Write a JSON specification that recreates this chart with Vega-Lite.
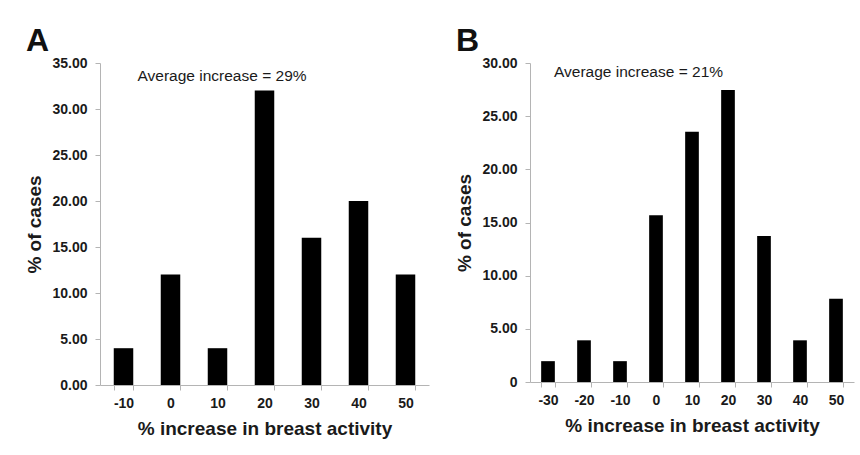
{
  "$schema": "https://vega.github.io/schema/vega-lite/v6.json",
  "background": "white",
  "padding": {"left": 25, "top": 25, "right": 4, "bottom": 4},
  "spacing": 26,
  "config": {
    "font": "Liberation Sans",
    "view": {"stroke": null},
    "axis": {
      "grid": false,
      "domainColor": "#b4b4b4",
      "tickColor": "#b4b4b4",
      "labelColor": "#1a1a1a",
      "labelFont": "Liberation Sans",
      "labelFontWeight": "bold",
      "labelFontSize": 14,
      "titleFont": "Liberation Sans",
      "titleFontWeight": "bold",
      "titleFontSize": 19,
      "titleColor": "#1a1a1a",
      "tickSize": 5
    },
    "title": {"font": "Liberation Sans", "fontWeight": "bold", "fontSize": 32, "color": "#111", "anchor": "start", "frame": "bounds"}
  },
  "hconcat": [
    {
      "title": {"text": "A", "offset": -2},
      "width": 329,
      "height": 322,
      "layer": [
        {
          "data": {"values": [
            {"increase": "-10", "pct": 4},
            {"increase": "0", "pct": 12},
            {"increase": "10", "pct": 4},
            {"increase": "20", "pct": 32},
            {"increase": "30", "pct": 16},
            {"increase": "40", "pct": 20},
            {"increase": "50", "pct": 12}
          ]},
          "mark": {"type": "bar", "color": "black"},
          "encoding": {
            "x": {"field": "increase", "type": "ordinal", "sort": null,
              "scale": {"domain": ["-10", "0", "10", "20", "30", "40", "50"], "paddingInner": 0.585, "paddingOuter": 0.2925},
              "axis": {"title": "% increase in breast activity", "labelAngle": 0, "tickBand": "extent", "labelPadding": 6, "titlePadding": 9}},
            "y": {"field": "pct", "type": "quantitative",
              "scale": {"domain": [0, 35], "nice": false},
              "axis": {"title": "% of cases", "values": [0, 5, 10, 15, 20, 25, 30, 35], "format": ".2f", "labelPadding": 8, "titlePadding": 7}}
          }
        },
        {
          "data": {"values": [{"label": "Average increase = 29%", "increase": "-10", "pct": 33.6}]},
          "mark": {"type": "text", "align": "left", "baseline": "middle", "dx": 14, "fontSize": 15.5, "color": "#1a1a1a", "font": "Liberation Sans"},
          "encoding": {
            "x": {"field": "increase", "type": "ordinal"},
            "y": {"field": "pct", "type": "quantitative"},
            "text": {"field": "label"}
          }
        }
      ]
    },
    {
      "title": {"text": "B", "offset": -2},
      "width": 324,
      "height": 319,
      "layer": [
        {
          "data": {"values": [
            {"increase": "-30", "pct": 1.96},
            {"increase": "-20", "pct": 3.92},
            {"increase": "-10", "pct": 1.96},
            {"increase": "0", "pct": 15.69},
            {"increase": "10", "pct": 23.53},
            {"increase": "20", "pct": 27.45},
            {"increase": "30", "pct": 13.73},
            {"increase": "40", "pct": 3.92},
            {"increase": "50", "pct": 7.84}
          ]},
          "mark": {"type": "bar", "color": "black"},
          "encoding": {
            "x": {"field": "increase", "type": "ordinal", "sort": null,
              "scale": {"domain": ["-30", "-20", "-10", "0", "10", "20", "30", "40", "50"], "paddingInner": 0.62, "paddingOuter": 0.31},
              "axis": {"title": "% increase in breast activity", "labelAngle": 0, "tickBand": "extent", "labelPadding": 6, "titlePadding": 9}},
            "y": {"field": "pct", "type": "quantitative",
              "scale": {"domain": [0, 30], "nice": false},
              "axis": {"title": "% of cases", "values": [0, 5, 10, 15, 20, 25, 30], "labelExpr": "datum.value == 0 ? '0' : format(datum.value, '.2f')", "labelPadding": 8, "titlePadding": 7}}
          }
        },
        {
          "data": {"values": [{"label": "Average increase = 21%", "increase": "-30", "pct": 29.2}]},
          "mark": {"type": "text", "align": "left", "baseline": "middle", "dx": 6, "fontSize": 15.5, "color": "#1a1a1a", "font": "Liberation Sans"},
          "encoding": {
            "x": {"field": "increase", "type": "ordinal"},
            "y": {"field": "pct", "type": "quantitative"},
            "text": {"field": "label"}
          }
        }
      ]
    }
  ]
}
